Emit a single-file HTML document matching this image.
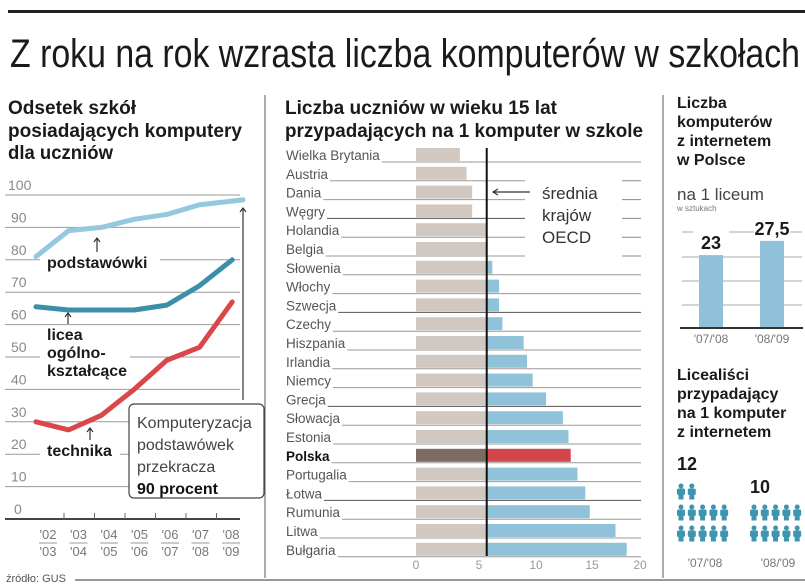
<!DOCTYPE html>
<html><head><meta charset="utf-8">
<style>
html,body{margin:0;padding:0;background:#fff;}
svg{display:block;font-family:"Liberation Sans",sans-serif;}
.cond{font-family:"Liberation Sans Narrow","Liberation Sans",sans-serif;}
</style></head>
<body>
<svg id="svg" width="805" height="587" viewBox="0 0 805 587" xmlns="http://www.w3.org/2000/svg">
<rect x="0" y="0" width="805" height="587" fill="#fff"/>
<rect x="8" y="10" width="797" height="3" fill="#222"/>
<text x="10" y="67" font-size="40" class="cond" textLength="790" lengthAdjust="spacingAndGlyphs" fill="#1a1a1a">Z roku na rok wzrasta liczba komputerów w szkołach</text>

<g font-weight="bold" font-size="19" class="cond" fill="#1a1a1a">
<text x="8" y="114" textLength="128" lengthAdjust="spacingAndGlyphs">Odsetek szkół</text>
<text x="8" y="137" textLength="234" lengthAdjust="spacingAndGlyphs">posiadających komputery</text>
<text x="8" y="159" textLength="105" lengthAdjust="spacingAndGlyphs">dla uczniów</text>
</g>
<g font-weight="bold" font-size="19" class="cond" fill="#1a1a1a">
<text x="285" y="114" textLength="272" lengthAdjust="spacingAndGlyphs">Liczba uczniów w wieku 15 lat</text>
<text x="285" y="137" textLength="358" lengthAdjust="spacingAndGlyphs">przypadających na 1 komputer w szkole</text>
</g>
<line x1="265" y1="95" x2="265" y2="578" stroke="#555" stroke-width="1"/>
<line x1="663" y1="95" x2="663" y2="578" stroke="#555" stroke-width="1"/>
<line x1="75" y1="580" x2="805" y2="580" stroke="#333" stroke-width="1"/>
<text x="6" y="582" font-size="11" fill="#555">źródło: GUS</text>

<g id="left"></g>
<g id="mid"></g>
<g id="right"></g>
</svg>
<script>
// ---- left line chart data
const years = ["'02/'03","'03/'04","'04/'05","'05/'06","'06/'07","'07/'08","'08/'09"];
const yTicks = [0,10,20,30,40,50,60,70,80,90,100];
const podstawowki = [81,89,90,92.5,94,97,98.5];
const licea = [65.5,64.5,64.5,64.5,66,72,80];
const technika = [30,27.5,32,40,49,53,67];
// ---- bar chart data
const countries = ["Wielka Brytania","Austria","Dania","Węgry","Holandia","Belgia","Słowenia","Włochy","Szwecja","Czechy","Hiszpania","Irlandia","Niemcy","Grecja","Słowacja","Estonia","Polska","Portugalia","Łotwa","Rumunia","Litwa","Bułgaria"];
const studentsPerPc = [3.2,3.8,4.3,4.3,5.6,5.6,6.1,6.7,6.7,7.0,8.9,9.2,9.7,10.9,12.4,12.9,13.1,13.7,14.4,14.8,17.1,18.1];
const oecdAvg = [5.6];
const xTicks = [0,5,10,15,20];
// ---- right panel data
const periods = ["'07/'08","'08/'09"];
const pcsPerLiceum = [23,27.5];
const pcsLabels = ["23","27,5"];
const studentsPerNetPc = [12,10];

const NS="http://www.w3.org/2000/svg";
function mk(tag,attrs,parent,text){const e=document.createElementNS(NS,tag);for(const k in attrs)e.setAttribute(k,attrs[k]);if(text!==undefined)e.textContent=text;parent.appendChild(e);return e;}

// ===== LEFT =====
const L=document.getElementById('left');
const ly=v=>519-3.24*v;
const lx=i=>36+i*32.7;
yTicks.forEach(t=>{
  if(t>0){const gl=mk('line',{x1:5,x2:240,y1:ly(t),y2:ly(t),stroke:'#999','stroke-width':1},L);
  
  }
  const tl=mk('text',{x:t===100?8:(t===0?14:11),y:ly(t)-5,'font-size':14,fill:'#888'},L,String(t));
  
  
});
const ax=mk('line',{x1:5,x2:240,y1:519,y2:519,stroke:'#444','stroke-width':2},L);


years.forEach((y,i)=>{
  const cx=48+i*30.5;
  if(i<6){const tk=mk('line',{x1:cx+16,x2:cx+16,y1:513,y2:519,stroke:'#666'},L);
  
  }
  const p=y.split('/');
  const t1=mk('text',{x:cx,y:539,'font-size':13,fill:'#777','text-anchor':'middle'},L,p[0]);
  
  
  const t2=mk('text',{x:cx,y:556,'font-size':13,fill:'#777','text-anchor':'middle'},L,p[1]);
  
  
  const ul=mk('line',{x1:cx-9,x2:cx+9,y1:543,y2:543,stroke:'#999'},L);
  
  
});
[[40,250,120,20],[40,326,90,56],[40,438,80,22]].forEach(r=>{
  const b=mk('rect',{x:r[0],y:r[1],width:r[2],height:r[3],fill:'#fff'},L);
  
  
});
function series(vals,color,name,endX){
  const pts=vals.map((v,i)=>[(i===vals.length-1&&endX)?endX:lx(i),ly(v)]);
  const p=mk('polyline',{points:pts.map(p=>p.join(',')).join(' '),fill:'none',stroke:color,'stroke-width':5,'stroke-linejoin':'round','stroke-linecap':'round'},L);
  
  
}
series(podstawowki,'#94c8de','line-podstawowki',243);
series(licea,'#3b8fa9','line-licea');
series(technika,'#d9474a','line-technika');
function arrow(x,y1,y2,name){
  const a=mk('path',{d:`M${x},${y2} L${x},${y1} M${x-3},${y1+4} L${x},${y1} L${x+3},${y1+4}`,stroke:'#333','stroke-width':1.2,fill:'none'},L);
  
  
}
arrow(97,238,252,'arrow-podstawowki');
arrow(68,313,324,'arrow-licea');
arrow(90,428,440,'arrow-technika');
arrow(243,208,400,'arrow-90-percent');
const lb=[['podstawówki',47,268,'label-podstawowki'],['licea',47,340,'label-licea'],['ogólno-',47,358,'label-licea'],['kształcące',47,376,'label-licea'],['technika',47,456,'label-technika']];
lb.forEach(l=>{const t=mk('text',{x:l[1],y:l[2],'font-size':16,'font-weight':'bold',fill:'#1a1a1a'},L,l[0]);

});
const box=mk('rect',{x:129,y:404,width:135,height:94,rx:5,fill:'#fff',stroke:'#444','stroke-width':1.2},L);


[['Komputeryzacja',428,'normal'],['podstawówek',450,'normal'],['przekracza',472,'normal'],['90 procent',494,'bold']].forEach(a=>{
  const t=mk('text',{x:137,y:a[1],'font-size':16,'font-weight':a[2],fill:a[2]==='bold'?'#111':'#444'},L,a[0]);
  
  
});

// ===== MIDDLE =====
const M=document.getElementById('mid');
const bx=v=>424+11.2*v;
const zeroX=416;
const avgX=bx(oecdAvg[0]);
const rowY=i=>155+i*18.8;
countries.forEach((c,i)=>{
  const cy=rowY(i);
  const isPl=c==='Polska';
  const lbl=mk('text',{x:286,y:cy+5,'font-size':13.5,fill:isPl?'#111':'#555','font-weight':isPl?'bold':'normal'},M,c);
  
  
  const lw=lbl.getComputedTextLength ? lbl.getComputedTextLength()+2 : c.length*7;
  const rl=mk('line',{x1:286+lw,x2:(i>=1&&i<=5)?525:641,y1:cy+7,y2:cy+7,stroke:i%5===3?'#555':'#999','stroke-width':1},M);
  
  
  if(i>=1&&i<=5){const r2=mk('line',{x1:622,x2:641,y1:cy+7,y2:cy+7,stroke:'#888'},M);
  
  }
  const v=studentsPerPc[i];
  const g=mk('rect',{x:zeroX,y:cy-7,width:Math.min(bx(v),avgX)-zeroX,height:13,fill:isPl?'#7d6b61':'#d1c8c2'},M);
  
  
  if(bx(v)>avgX){const b=mk('rect',{x:avgX,y:cy-7,width:bx(v)-avgX,height:13,fill:isPl?'#d3464b':'#90c2d9'},M);
  
  }
});
const al=mk('line',{x1:avgX,x2:avgX,y1:148,y2:556,stroke:'#111','stroke-width':2},M);


const ab=mk('rect',{x:527,y:170,width:92,height:72,fill:'#fff'},M);


const aa=mk('path',{d:'M530,192 L493,192 M498,189 L493,192 L498,195',stroke:'#333','stroke-width':1.2,fill:'none'},M);


[['średnia',199],['krajów',221],['OECD',243]].forEach(a=>{
  const t=mk('text',{x:542,y:a[1],'font-size':17,fill:'#333'},M,a[0]);
  
  
});
xTicks.forEach((t,i)=>{
  const xx=[416,479,536,592,640][i];
  const tl=mk('text',{x:xx,y:569,'font-size':12,fill:'#999','text-anchor':'middle'},M,String(t));
  
  
});

// ===== RIGHT =====
const R=document.getElementById('right');
[['Liczba',108],['komputerów',127],['z internetem',146],['w Polsce',165]].forEach(a=>{
  const t=mk('text',{x:677,y:a[1],'font-size':16,'font-weight':'bold',fill:'#1a1a1a'},R,a[0]);
  
  
});
const sub=mk('text',{x:677,y:200,'font-size':17,fill:'#444'},R,'na 1 liceum');


const un=mk('text',{x:677,y:211,'font-size':8,fill:'#777'},R,'w sztukach');


const base=328, k=3.17;
[232,257,281,305].forEach(y=>{
  const gl=mk('line',{x1:682,x2:802,y1:y,y2:y,stroke:'#aaa'},R);
  
  
});
const pbx=[699,760];
pcsPerLiceum.forEach((v,i)=>{
  const m=mk('rect',{x:pbx[i]-6,y:base-v*k-26,width:36,height:24,fill:'#fff'},R);
  
  
  const b=mk('rect',{x:pbx[i],y:base-v*k,width:24,height:v*k,fill:'#8fc1d8'},R);
  
  
  const t=mk('text',{x:pbx[i]+12,y:base-v*k-6,'font-size':18,'font-weight':'bold','text-anchor':'middle',fill:'#1a1a1a'},R,pcsLabels[i]);
  
  
  const pl=mk('text',{x:pbx[i]+12,y:343,'font-size':12,'text-anchor':'middle',fill:'#777'},R,periods[i]);
  
  
});
const rb=mk('line',{x1:680,x2:803,y1:base,y2:base,stroke:'#333','stroke-width':2},R);


[['Licealiści',380],['przypadający',399],['na 1 komputer',418],['z internetem',437]].forEach(a=>{
  const t=mk('text',{x:677,y:a[1],'font-size':16,'font-weight':'bold',fill:'#1a1a1a'},R,a[0]);
  
  
});
function person(x,y){
  const g=mk('g',{fill:'#3d95b0'},R);
  
  
  mk('circle',{cx:x,cy:y-5,r:2.5},g);
  mk('rect',{x:x-4,y:y-2.5,width:8,height:6.5,rx:1.5},g);
  mk('rect',{x:x-2.5,y:y+3,width:5,height:5.5},g);
}
const gx=[677,750];
const numY=[470,493];
studentsPerNetPc.forEach((n,gi)=>{
  const t=mk('text',{x:gx[gi],y:numY[gi],'font-size':18,'font-weight':'bold',fill:'#1a1a1a'},R,String(n));
  
  
  const rows=Math.ceil(n/5);
  for(let r=0;r<rows;r++){
    const cnt=(r===0&&n%5)?n%5:5;
    const yy=532-(rows-1-r)*21+1;
    for(let c=0;c<cnt;c++) person(gx[gi]+4+c*10.8,yy);
  }
  const pl=mk('text',{x:gx[gi]+28,y:567,'font-size':12,'text-anchor':'middle',fill:'#777'},R,periods[gi]);
  
  
});
</script>
</body></html>
